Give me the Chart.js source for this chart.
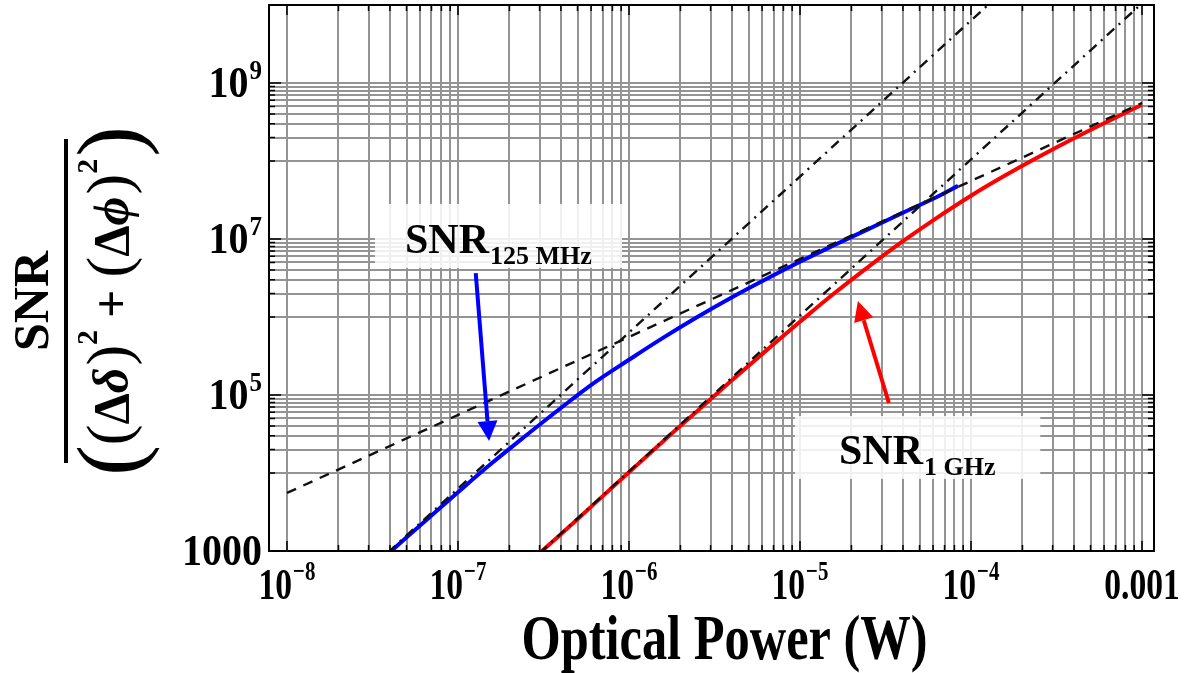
<!DOCTYPE html>
<html>
<head>
<meta charset="utf-8">
<script src="https://cdn.jsdelivr.net/npm/chart.js@4.4.0/dist/chart.umd.min.js"></script>
<style>
  html, body { margin: 0; padding: 0; background: #fff; }
</style>
</head>
<body>
<canvas id="snrChart" width="1185" height="673"></canvas>
<script>
// 125 MHz receiver
var powerBlue = [3.98e-8, 6.31e-8, 1.0e-7, 1.58e-7, 2.51e-7, 3.98e-7, 6.31e-7, 1.0e-6, 1.58e-6, 2.51e-6, 3.98e-6, 6.31e-6, 1.0e-5, 1.58e-5, 2.51e-5, 3.98e-5, 6.31e-5, 8.4e-5];
var snrBlue = [957, 2340, 5670, 13400, 30500, 67600, 145000, 283000, 540000, 1.0e6, 1.78e6, 3.05e6, 5.1e6, 8.3e6, 1.34e7, 2.16e7, 3.45e7, 4.8e7];

// 1 GHz receiver
var powerRed = [3.0e-7, 3.98e-7, 6.31e-7, 1.0e-6, 1.58e-6, 2.51e-6, 3.98e-6, 6.31e-6, 1.0e-5, 1.58e-5, 2.51e-5, 3.98e-5, 6.31e-5, 1.0e-4, 1.58e-4, 2.51e-4, 3.98e-4, 6.31e-4, 1.0e-3];
var snrRed = [940, 1630, 4080, 10200, 25400, 62500, 153000, 368000, 870000, 2.0e6, 4.4e6, 9.3e6, 1.87e7, 3.59e7, 6.5e7, 1.14e8, 1.94e8, 3.22e8, 5.26e8];

// asymptotes: shot noise (dashed), thermal noise for each bandwidth (dash-dot)
var powerShot = [1.0e-8, 1.0e-3];
var snrShot = [5550, 5.55e8];
var powerThermBlue = [3.9e-8, 1.3e-4];
var snrThermBlue = [960, 1.07e10];
var powerThermRed = [3.0e-7, 1.0e-3];
var snrThermRed = [940, 1.05e10];

// axis ticks
var xGridValues = [];
[-8, -7, -6, -5, -4].forEach(function (e) {
    for (var n = 1; n <= 9; n++) xGridValues.push(n * Math.pow(10, e));
});
xGridValues.push(1e-3);
var yGridValues = [1000];
[4, 6, 8].forEach(function (e) {
    for (var n = 1; n <= 10; n++) yGridValues.push(n * Math.pow(10, e));
});
var xLabelValues = [1e-8, 1e-7, 1e-6, 1e-5, 1e-4, 1e-3];
var xLabelText = ['10|\u22128', '10|\u22127', '10|\u22126', '10|\u22125', '10|\u22124', '0.001'];
var yLabelValues = [1000, 1e5, 1e7, 1e9];
var yLabelText = ['1000', '10|5', '10|7', '10|9'];

// callouts (placed in data units)
var notes = [
    { main: 'SNR', sub: '125 MHz', box: [3.27e-8, 9.1e-7, 2.81e7, 4.25e6], text: [4.9e-8, 6.6e6],
      arrow: [1.27e-7, 3.66e6, 1.52e-7, 2.57e4], color: '#0000ff' },
    { main: 'SNR', sub: '1 GHz', box: [9.35e-6, 2.54e-4, 5.38e4, 8.4e3], text: [1.69e-5, 1.3e4],
      arrow: [3.31e-5, 7.9e4, 2.18e-5, 1.6e6], color: '#ff0000' }
];

var SERIF = '"Liberation Serif", "Times New Roman", serif';

function pts(xs, ys) {
    return xs.map(function (x, i) { return { x: x, y: ys[i] }; });
}

// "10|-8" -> 10 with a raised exponent; sx/sy stretch the glyphs
function drawPow(ctx, text, x, y, align, size, sx, sy) {
    var parts = text.split('|');
    var supSize = Math.round(size * 0.62);
    ctx.font = 'bold ' + size + 'px ' + SERIF;
    var w1 = ctx.measureText(parts[0]).width;
    var w2 = 0;
    if (parts[1]) {
        ctx.font = 'bold ' + supSize + 'px ' + SERIF;
        w2 = ctx.measureText(parts[1]).width + 1;
    }
    var tw = (w1 + w2) * sx;
    var x0 = align === 'center' ? x - tw / 2 : (align === 'right' ? x - tw : x);
    ctx.save();
    ctx.translate(x0, y);
    ctx.scale(sx, sy);
    ctx.textAlign = 'left';
    ctx.textBaseline = 'alphabetic';
    ctx.font = 'bold ' + size + 'px ' + SERIF;
    ctx.fillText(parts[0], 0, 0);
    if (parts[1]) {
        ctx.font = 'bold ' + supSize + 'px ' + SERIF;
        ctx.fillText(parts[1], w1 + 1, -size * 0.42);
    }
    ctx.restore();
}

function drawArrow(ctx, x1, y1, x2, y2, color) {
    var ang = Math.atan2(y2 - y1, x2 - x1);
    var head = 20, half = 10;
    ctx.strokeStyle = color;
    ctx.fillStyle = color;
    ctx.lineWidth = 4;
    ctx.beginPath();
    ctx.moveTo(x1, y1);
    ctx.lineTo(x2 - Math.cos(ang) * head, y2 - Math.sin(ang) * head);
    ctx.stroke();
    ctx.beginPath();
    ctx.moveTo(x2, y2);
    ctx.lineTo(x2 - Math.cos(ang) * head - Math.sin(ang) * half, y2 - Math.sin(ang) * head + Math.cos(ang) * half);
    ctx.lineTo(x2 - Math.cos(ang) * head + Math.sin(ang) * half, y2 - Math.sin(ang) * head - Math.cos(ang) * half);
    ctx.closePath();
    ctx.fill();
}

function drawYTitle(ctx, cx, cy) {
    ctx.save();
    ctx.translate(cx, cy);
    ctx.rotate(-Math.PI / 2);
    ctx.fillStyle = '#000';
    ctx.textBaseline = 'alphabetic';
    ctx.textAlign = 'center';
    ctx.font = 'bold 50px ' + SERIF;
    ctx.fillText('SNR', 0, -18);
    ctx.fillRect(-162, -2, 324, 4);

    // denominator ((Δδ)^2 + (Δϕ)^2)
    var big = '300 92px ' + SERIF, par = '62px ' + SERIF, sym = 'bold 50px ' + SERIF,
        ital = 'italic bold 50px ' + SERIF, sup = 'bold 30px ' + SERIF;
    var pieces = [
        ['(', big, 74, 0], ['(', par, 63, 0], ['\u0394', sym, 62, 0], ['\u03b4', ital, 62, 2],
        [')', par, 63, 0], ['2', sup, 31, 12], ['+', sym, 62, 12], ['(', par, 63, 0],
        ['\u0394', sym, 62, 0], ['\u03d5', ital, 62, 2], [')', par, 63, 0], ['2', sup, 31, 2],
        [')', big, 74, 0]
    ];
    ctx.textAlign = 'left';
    var total = 0;
    pieces.forEach(function (p) { ctx.font = p[1]; total += ctx.measureText(p[0]).width + p[3]; });
    var x = -total / 2;
    pieces.forEach(function (p) {
        ctx.font = p[1];
        ctx.fillText(p[0], x, p[2]);
        x += ctx.measureText(p[0]).width + p[3];
    });
    ctx.restore();
}

var decorations = {
    id: 'decorations',
    afterDatasetsDraw: function (chart) {
        var ctx = chart.ctx;
        var xs = chart.scales.x, ys = chart.scales.y;
        ctx.save();
        notes.forEach(function (n) {
            var bx1 = xs.getPixelForValue(n.box[0]), bx2 = xs.getPixelForValue(n.box[1]);
            var by1 = ys.getPixelForValue(n.box[2]), by2 = ys.getPixelForValue(n.box[3]);
            ctx.fillStyle = 'rgba(255,255,255,0.86)';
            ctx.fillRect(bx1, by1, bx2 - bx1, by2 - by1);

            var tx = xs.getPixelForValue(n.text[0]), ty = ys.getPixelForValue(n.text[1]);
            ctx.fillStyle = '#000';
            ctx.textAlign = 'left';
            ctx.textBaseline = 'alphabetic';
            ctx.font = 'bold 42px ' + SERIF;
            ctx.fillText(n.main, tx, ty);
            var w = ctx.measureText(n.main).width;
            ctx.font = 'bold 26px ' + SERIF;
            ctx.fillText(n.sub, tx + w + 1, ty + 11);

            drawArrow(ctx, xs.getPixelForValue(n.arrow[0]), ys.getPixelForValue(n.arrow[1]),
                xs.getPixelForValue(n.arrow[2]), ys.getPixelForValue(n.arrow[3]), n.color);
        });
        ctx.restore();
    },
    afterDraw: function (chart) {
        var ctx = chart.ctx, a = chart.chartArea;
        var xs = chart.scales.x, ys = chart.scales.y;
        ctx.save();
        ctx.strokeStyle = '#000';
        ctx.lineWidth = 1.5;
        ctx.beginPath();
        xGridValues.forEach(function (v) {
            var px = xs.getPixelForValue(v);
            var len = xLabelValues.indexOf(v) >= 0 ? 10 : 6;
            ctx.moveTo(px, a.bottom); ctx.lineTo(px, a.bottom - len);
            ctx.moveTo(px, a.top); ctx.lineTo(px, a.top + len);
        });
        yGridValues.forEach(function (v) {
            var py = ys.getPixelForValue(v);
            var len = yLabelValues.indexOf(v) >= 0 ? 12 : 6;
            ctx.moveTo(a.left, py); ctx.lineTo(a.left + len, py);
            ctx.moveTo(a.right, py); ctx.lineTo(a.right - len, py);
        });
        ctx.stroke();

        ctx.lineWidth = 2;
        ctx.strokeRect(a.left, a.top, a.right - a.left, a.bottom - a.top);

        ctx.fillStyle = '#000';
        xLabelValues.forEach(function (v, i) {
            drawPow(ctx, xLabelText[i], xs.getPixelForValue(v), a.bottom + 48, 'center', 40, 0.84, 1.12);
        });
        yLabelValues.forEach(function (v, i) {
            drawPow(ctx, yLabelText[i], a.left - 7, ys.getPixelForValue(v) + 14, 'right', 40, 1, 1.1);
        });

        ctx.save();
        ctx.translate((a.left + a.right) / 2 + 13, 659);
        ctx.scale(0.97, 1.2);
        ctx.font = 'bold 52px ' + SERIF;
        ctx.textAlign = 'center';
        ctx.textBaseline = 'alphabetic';
        ctx.fillText('Optical Power (W)', 0, 0);
        ctx.restore();

        drawYTitle(ctx, 66, 301);
        ctx.restore();
    }
};

var gridStyle = { color: '#949494', lineWidth: 2, drawTicks: false };

new Chart(document.getElementById('snrChart'), {
    type: 'line',
    data: {
        datasets: [
            { data: pts(powerShot, snrShot), borderColor: '#111', borderWidth: 2.4, borderDash: [10, 8] },
            { data: pts(powerThermBlue, snrThermBlue), borderColor: '#111', borderWidth: 2.4, borderDash: [10, 6, 2, 6] },
            { data: pts(powerThermRed, snrThermRed), borderColor: '#111', borderWidth: 2.4, borderDash: [10, 6, 2, 6] },
            { data: pts(powerBlue, snrBlue), borderColor: '#0000ff', borderWidth: 4, tension: 0.4 },
            { data: pts(powerRed, snrRed), borderColor: '#ff0000', borderWidth: 4, tension: 0.4 }
        ]
    },
    options: {
        responsive: false,
        animation: false,
        layout: { padding: { left: 269, right: 31, top: 5, bottom: 122 } },
        elements: { point: { radius: 0 } },
        plugins: { legend: { display: false }, tooltip: { enabled: false } },
        scales: {
            x: {
                type: 'logarithmic', min: 7.85e-9, max: 1.175e-3,
                afterBuildTicks: function (scale) {
                    scale.ticks = xGridValues.map(function (v) { return { value: v }; });
                },
                ticks: { display: false },
                grid: gridStyle,
                border: { display: false }
            },
            y: {
                type: 'logarithmic', min: 1000, max: 1e10,
                afterBuildTicks: function (scale) {
                    scale.ticks = yGridValues.map(function (v) { return { value: v }; });
                },
                ticks: { display: false },
                grid: gridStyle,
                border: { display: false }
            }
        }
    },
    plugins: [decorations]
});
</script>
</body>
</html>
